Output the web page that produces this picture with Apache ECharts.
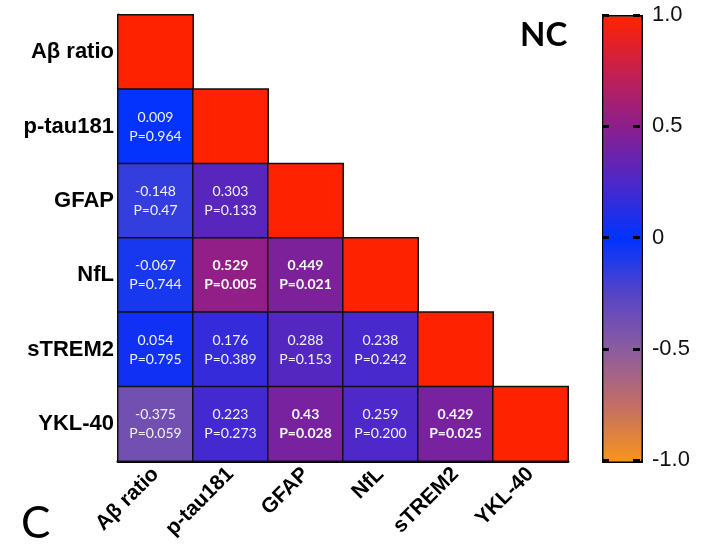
<!DOCTYPE html>
<html>
<head>
<meta charset="utf-8">
<script src="https://cdn.jsdelivr.net/npm/echarts@6/dist/echarts.min.js"></script>
<style>
  html, body { margin: 0; padding: 0; background: #fff; }
  #main { width: 702px; height: 548px; }
</style>
</head>
<body>
<div id="main"></div>
<script>
// 标签
const markers = ['Aβ ratio', 'p-tau181', 'GFAP', 'NfL', 'sTREM2', 'YKL-40'];
// 下三角相关系数 (每行从第一列开始)
const rRows = [
  [],
  ['0.009'],
  ['-0.148', '0.303'],
  ['-0.067', '0.529', '0.449'],
  ['0.054', '0.176', '0.288', '0.238'],
  ['-0.375', '0.223', '0.43', '0.259', '0.429']
];
// P 值
const pRows = [
  [],
  ['0.964'],
  ['0.47', '0.133'],
  ['0.744', '0.005', '0.021'],
  ['0.795', '0.389', '0.153', '0.242'],
  ['0.059', '0.273', '0.028', '0.200', '0.025']
];
const scaleTicks = [-1, -0.5, 0, 0.5, 1];
const scaleColors = ['#F7941D', '#C46E66', '#8C5C9E', '#5844C6', '#0033FF', '#4C28CA', '#8A1F8E', '#C42050', '#FF2200'];

const chart = echarts.init(document.getElementById('main'));

const cells = [];
markers.forEach((rowName, row) => {
  for (let col = 0; col <= row; col++) {
    if (col === row) {
      cells.push({ value: [col, row, 1], label: { show: false } });
    } else {
      const r = rRows[row][col];
      const p = pRows[row][col];
      const sig = parseFloat(p) < 0.05;
      const st = sig ? 'b' : 'n';
      cells.push({
        value: [col, row, parseFloat(r)],
        label: { formatter: '{' + st + '|' + r + '}\n{' + st + '|P=' + p + '}' }
      });
    }
  }
});

const option = {
  animation: false,
  title: [
    { text: 'NC', left: 515, top: 14, textStyle: { fontFamily: 'Lato', fontWeight: 'bold', fontSize: 33, color: '#000' } },
    { text: 'C', left: 16, top: 497, textStyle: { fontFamily: 'Lato', fontWeight: 'normal', fontSize: 44, color: '#000' } }
  ],
  grid: [
    { left: 118, top: 15, width: 450, height: 446 },
    { left: 602, top: 15, width: 38, height: 445 }
  ],
  xAxis: [
    {
      type: 'category',
      data: markers,
      gridIndex: 0,
      axisLine: { lineStyle: { color: '#000', width: 3 } },
      axisTick: { show: false },
      axisLabel: {
        rotate: 45,
        margin: 10,
        fontFamily: 'Liberation Sans',
        fontWeight: 'bold',
        fontSize: 21,
        color: '#000'
      },
      splitArea: { show: false }
    },
    { type: 'value', gridIndex: 1, min: 0, max: 1, show: false }
  ],
  yAxis: [
    {
      type: 'category',
      data: markers,
      inverse: true,
      gridIndex: 0,
      axisLine: { lineStyle: { color: '#000', width: 3 } },
      axisTick: { show: false },
      axisLabel: {
        margin: 4,
        fontFamily: 'Liberation Sans',
        fontWeight: 'bold',
        fontSize: 22,
        color: '#000'
      },
      splitArea: { show: false }
    },
    {
      type: 'value',
      gridIndex: 1,
      position: 'right',
      z: 10,
      min: -1,
      max: 1,
      interval: 0.5,
      axisLine: { show: false, onZero: false },
      axisTick: { show: true, inside: true, length: 7, lineStyle: { color: '#000', width: 3 } },
      axisLabel: {
        margin: 12,
        fontFamily: 'Liberation Sans',
        fontSize: 22,
        color: '#111',
        formatter: v => (v === 0 ? '0' : v.toFixed(1))
      },
      splitLine: { show: false }
    },
    {
      type: 'value',
      gridIndex: 1,
      position: 'left',
      z: 10,
      min: -1,
      max: 1,
      interval: 0.5,
      axisLine: { show: false, onZero: false },
      axisTick: { show: true, inside: true, length: 7, lineStyle: { color: '#000', width: 3 } },
      axisLabel: { show: false },
      splitLine: { show: false }
    }
  ],
  visualMap: {
    type: 'continuous',
    min: scaleTicks[0],
    max: scaleTicks[scaleTicks.length - 1],
    dimension: 2,
    seriesIndex: 0,
    calculable: false,
    left: 602,
    top: 15,
    itemWidth: 38,
    itemHeight: 445,
    padding: 0,
    text: null,
    showLabel: false,
    borderColor: '#000',
    borderWidth: 3,
    inRange: { color: scaleColors }
  },
  series: [
    {
      type: 'heatmap',
      xAxisIndex: 0,
      yAxisIndex: 0,
      data: cells,
      itemStyle: { borderColor: '#111', borderWidth: 1.5 },
      label: {
        show: true,
        color: '#f2f2f2',
        rich: {
          n: { fontFamily: 'Lato', fontSize: 14, lineHeight: 19, color: '#f2f2f2' },
          b: { fontFamily: 'Lato', fontSize: 14, fontWeight: 'bold', lineHeight: 19, color: '#f8f8f8' }
        }
      }
    }
  ]
};

chart.setOption(option);
</script>
</body>
</html>
